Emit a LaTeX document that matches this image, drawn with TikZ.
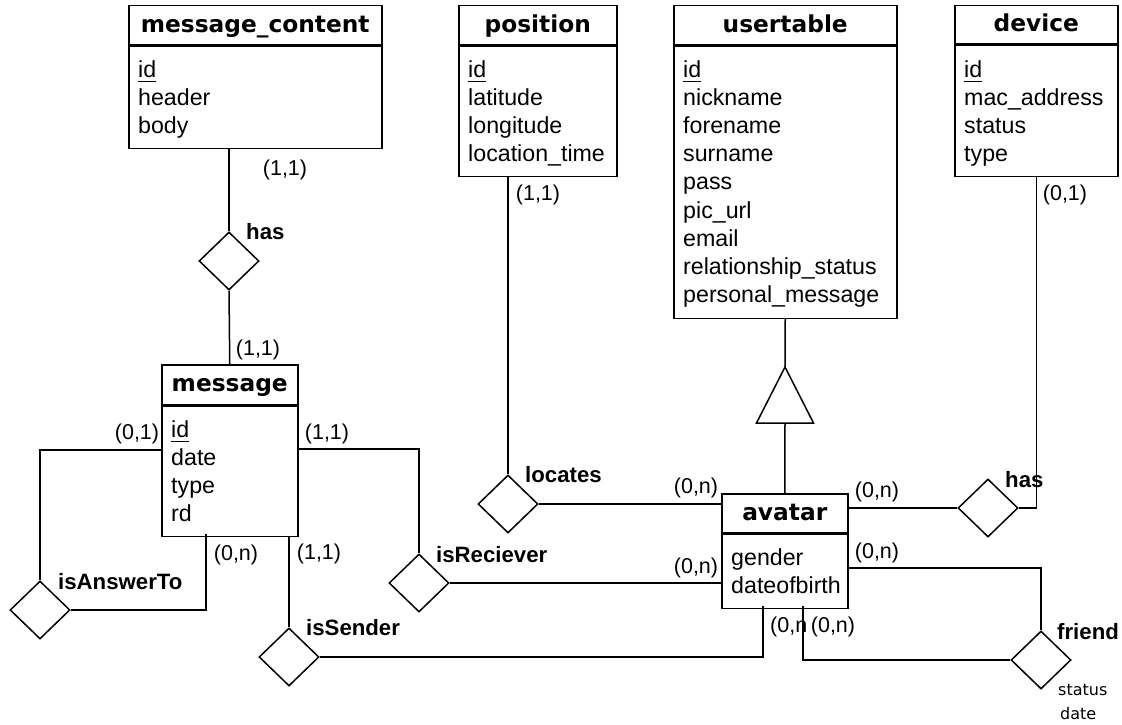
\documentclass[tikz,border=0pt]{standalone}
\usepackage{fontspec}
\setmainfont{Liberation Sans}
\newfontfamily\dvfont{DejaVu Sans}
\usetikzlibrary{shapes.geometric,calc}
\newcommand\pkey[1]{\setbox0\hbox{#1}\rlap{\rule[-4.5pt]{\wd0}{1.4pt}}\box0}
\tikzset{
  ent/.style={draw, line width=1.5pt, rectangle, inner sep=0pt, anchor=north west},
  ttl/.style={font=\dvfont\bfseries\fontsize{23.3}{28}\selectfont, text height=18pt, text depth=4pt},
  attr/.style={font=\fontsize{23.2}{28}\selectfont, anchor=base west, inner sep=0pt},
  card/.style={font=\fontsize{21.5}{26}\selectfont, inner sep=0pt},
  rel/.style={draw, line width=1.5pt, diamond, minimum width=60pt, minimum height=58pt, inner sep=0pt, aspect=1},
  rlabel/.style={font=\bfseries\fontsize{22.2}{26}\selectfont, anchor=base west, inner sep=0pt},
  conn/.style={line width=1.5pt},
  small/.style={font=\dvfont\fontsize{16}{19}\selectfont, anchor=west, inner sep=0pt}
}
\begin{document}
\begin{tikzpicture}[x=1pt,y=-1pt]
\useasboundingbox (0,0) rectangle (1122,725);

% ---------- entities ----------
% message_content
\node[ent, ttl, minimum width=253pt, minimum height=39pt] (mcT) at (128,5) {message\_content};
\node[ent, minimum width=253pt, minimum height=102pt] (mcA) at (mcT.south west) {};
\node[attr] (mc0) at ($(mcA.north west)+(10,32)$) {\pkey{id}};
\foreach \t [count=\i] in {header,body}
  \node[attr] (mc\i) at ($(mcA.north west)+(10,{32+28*\i})$) {\t};

% position
\node[ent, ttl, minimum width=158pt, minimum height=39pt] (posT) at (458,5) {position};
\node[ent, minimum width=158pt, minimum height=130pt] (posA) at (posT.south west) {};
\node[attr] (pos0) at ($(posA.north west)+(10,32)$) {\pkey{id}};
\foreach \t [count=\i] in {latitude,longitude,location\_time}
  \node[attr] (pos\i) at ($(posA.north west)+(10,{32+28*\i})$) {\t};

% usertable
\node[ent, ttl, minimum width=223pt, minimum height=39pt] (usrT) at (673,5) {usertable};
\node[ent, minimum width=223pt, minimum height=272pt] (usrA) at (usrT.south west) {};
\node[attr] (usr0) at ($(usrA.north west)+(10,32)$) {\pkey{id}};
\foreach \t [count=\i] in {nickname,forename,surname,pass,pic\_url,email,relationship\_status,personal\_message}
  \node[attr] (usr\i) at ($(usrA.north west)+(10,{32+28.1*\i})$) {\t};

% device
\node[ent, ttl, minimum width=163pt, minimum height=38pt] (devT) at (954,5) {device};
\node[ent, minimum width=163pt, minimum height=131pt] (devA) at (devT.south west) {};
\node[attr] (dev0) at ($(devA.north west)+(10,33)$) {\pkey{id}};
\foreach \t [count=\i] in {mac\_address,status,type}
  \node[attr] (dev\i) at ($(devA.north west)+(10,{33+28*\i})$) {\t};

% message
\node[ent, ttl, minimum width=136pt, minimum height=40pt] (msgT) at (161,364) {message};
\node[ent, minimum width=136pt, minimum height=130pt] (msgA) at (msgT.south west) {};
\node[attr] (msg0) at ($(msgA.north west)+(10,32)$) {\pkey{id}};
\foreach \t [count=\i] in {date,type,rd}
  \node[attr] (msg\i) at ($(msgA.north west)+(10,{32+28*\i})$) {\t};

% avatar
\node[ent, ttl, minimum width=126pt, minimum height=39pt] (avT) at (721,493) {avatar};
\node[ent, minimum width=126pt, minimum height=74pt] (avA) at (avT.south west) {};
\node[attr] (av1) at ($(avA.north west)+(10,32)$) {gender};
\node[attr] (av2) at ($(avA.north west)+(10,60)$) {dateofbirth};

% ---------- relationships ----------
\node[rel] (hasM) at (229,261) {};
\node[rel] (iat)  at (40,610) {};
\node[rel] (iss)  at (289,657) {};
\node[rel] (isr)  at (419,583) {};
\node[rel] (loc)  at (508,504) {};
\node[rel] (hasD) at (988,508) {};
\node[rel] (fr)   at (1041,660) {};

\node[rlabel] (lhasM) at (246,239) {has};
\node[rlabel] (liat)  at (58,589) {isAnswerTo};
\node[rlabel] (liss)  at (306,635) {isSender};
\node[rlabel] (lisr)  at (436,562) {isReciever};
\node[rlabel] (lloc)  at (525,482) {locates};
\node[rlabel] (lhasD) at (1005,487) {has};
\node[rlabel] (lfr)   at (1057,639) {friend};
\node[small] (frs) at (1058,690) {status};
\node[small] (frd) at (1060,714) {date};

% ---------- inheritance triangle ----------
\coordinate (triTop) at (785,367);
\coordinate (triBase) at (785,423);
\draw[conn] (triTop) -- ($(triBase)+(28.5,0)$) -- ($(triBase)+(-28.5,0)$) -- cycle;
\draw[conn] (usrA.south) -- (triTop);
\draw[conn] (triBase) -- (avT.north);

% ---------- connectors ----------
\draw[conn] (hasM.north) -- (hasM.north |- mcA.south);
\draw[conn] (hasM.south) -- (msgT.north);

\coordinate (pIAT1) at (161,450);
\coordinate (pIAT2) at (206,534);
\draw[conn] (pIAT1) -| (iat.north);
\draw[conn] (iat.east) -| (pIAT2);

\coordinate (pISR) at (297,449);
\draw[conn] (pISR) -| (isr.north);
\draw[conn] (isr.east) -- (isr.east -| avA.west);

\draw[conn] (iss.north) -- (iss.north |- msgA.south);
\coordinate (pISS) at (763,606);
\draw[conn] (iss.east) -| (pISS);

\draw[conn] (loc.north) -- (loc.north |- posA.south);
\draw[conn] (loc.east) -- (loc.east -| avT.west);

\draw[conn] (hasD.west -| avT.east) -- (hasD.west);
\draw[conn] (hasD.east) -| (devA.south);

\coordinate (pFR1) at (847,568);
\draw[conn] (pFR1) -| (fr.north);
\coordinate (pFR2) at (803,606);
\draw[conn] (fr.west) -| (pFR2);

% ---------- cardinalities ----------
\node[card] (c1) at (285,170) {(1,1)};
\node[card] (c2) at (258,350) {(1,1)};
\node[card] (c3) at (538,195) {(1,1)};
\node[card] (c4) at (1065,195) {(0,1)};
\node[card] (c5) at (137,434) {(0,1)};
\node[card] (c6) at (327,434) {(1,1)};
\node[card] (c7) at (236,555) {(0,n)};
\node[card] (c8) at (319,554) {(1,1)};
\node[card] (c9) at (696,488) {(0,n)};
\node[card] (c10) at (696,568) {(0,n)};
\node[card] (c11) at (877,492) {(0,n)};
\node[card] (c12) at (877,553) {(0,n)};
\node[card, anchor=west] (c13) at (770,627) {(0,n};
\node[card] (c14) at (833,627) {(0,n)};
\end{tikzpicture}
\end{document}
